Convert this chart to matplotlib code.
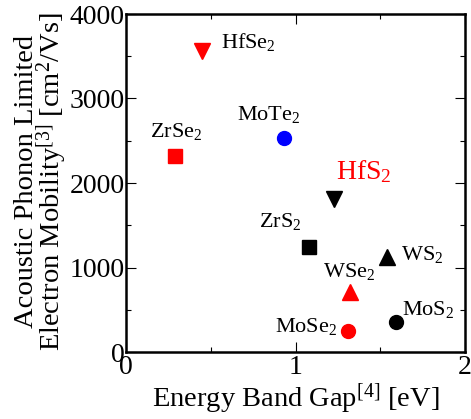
import matplotlib
matplotlib.use("Agg")
import matplotlib.pyplot as plt
from matplotlib.ticker import MultipleLocator

# Materials, band gaps [eV] and phonon-limited electron mobilities [cm^2/Vs]
materials = ["HfSe$_2$", "ZrSe$_2$", "MoTe$_2$", "HfS$_2$", "ZrS$_2$",
             "WS$_2$", "WSe$_2$", "MoSe$_2$", "MoS$_2$"]
band_gap = [0.45, 0.29, 0.935, 1.23, 1.08, 1.54, 1.32, 1.31, 1.59]
mobility = [3560, 2320, 2530, 1815, 1245, 1120, 710, 250, 350]

# marker style per material
markers = ["v", "s", "o", "v", "s", "^", "^", "o", "o"]
colors = ["#ff0000", "#ff0000", "#0000ff", "#000000", "#000000",
          "#000000", "#ff0000", "#ff0000", "#000000"]
# label offsets from marker in pixels (left edge, baseline)
label_dx = [19, -25, -47, 2, -50, 14, -27, -73, 6]
label_dy = [3, 19, 18, 20, 20, -3, 15, -1, 7]
label_color = ["k", "k", "k", "#ff0000", "k", "k", "k", "k", "k"]
label_size = [16, 16, 16, 20, 16, 16, 16, 16, 16]

plt.rcParams["font.family"] = ["Liberation Serif", "DejaVu Serif"]
plt.rcParams["mathtext.fontset"] = "custom"
plt.rcParams["mathtext.rm"] = "Liberation Serif"
plt.rcParams["mathtext.it"] = "Liberation Serif:italic"
plt.rcParams["mathtext.bf"] = "Liberation Serif:bold"

fig = plt.figure(figsize=(4.71, 4.19), dpi=100)
ax = fig.add_axes([126 / 471, 67 / 419, 339 / 471, 338 / 419])

for x, y, m, c in zip(band_gap, mobility, markers, colors):
    size = 11 if m in ("v", "^") else 10
    ax.plot(x, y, marker=m, color=c, markersize=size, linestyle="none",
            clip_on=False, zorder=3)

for i, name in enumerate(materials):
    ax.annotate(name, (band_gap[i], mobility[i]),
                xytext=(label_dx[i], label_dy[i]), textcoords="offset pixels",
                ha="left", va="baseline", color=label_color[i],
                fontsize=label_size[i])

ax.set_xlim(0, 2)
ax.set_ylim(0, 4000)
ax.xaxis.set_major_locator(MultipleLocator(1))
ax.xaxis.set_minor_locator(MultipleLocator(0.5))
ax.yaxis.set_major_locator(MultipleLocator(1000))
ax.yaxis.set_minor_locator(MultipleLocator(500))

for s in ax.spines.values():
    s.set_linewidth(1.8)
ax.tick_params(which="both", direction="in", top=True, right=True,
               labelsize=20, width=0.8)
ax.tick_params(which="major", length=7)
ax.tick_params(which="minor", length=3.6)
ax.tick_params(axis="y", pad=1)
ax.tick_params(axis="x", pad=2)

ax.set_xlabel("Energy Band Gap$^{[4]}$ [eV]", fontsize=20.5, labelpad=1)

fig.text(33 / 471, 1 - 181 / 419, "Acoustic Phonon Limited",
         rotation=90, rotation_mode="anchor", ha="center", va="baseline",
         fontsize=20.5)
fig.text(59 / 471, 1 - 182 / 419, "Electron Mobility$^{[3]}$ [cm$^2$/Vs]",
         rotation=90, rotation_mode="anchor", ha="center", va="baseline",
         fontsize=20.5)

fig.savefig("out.png", dpi=100)
